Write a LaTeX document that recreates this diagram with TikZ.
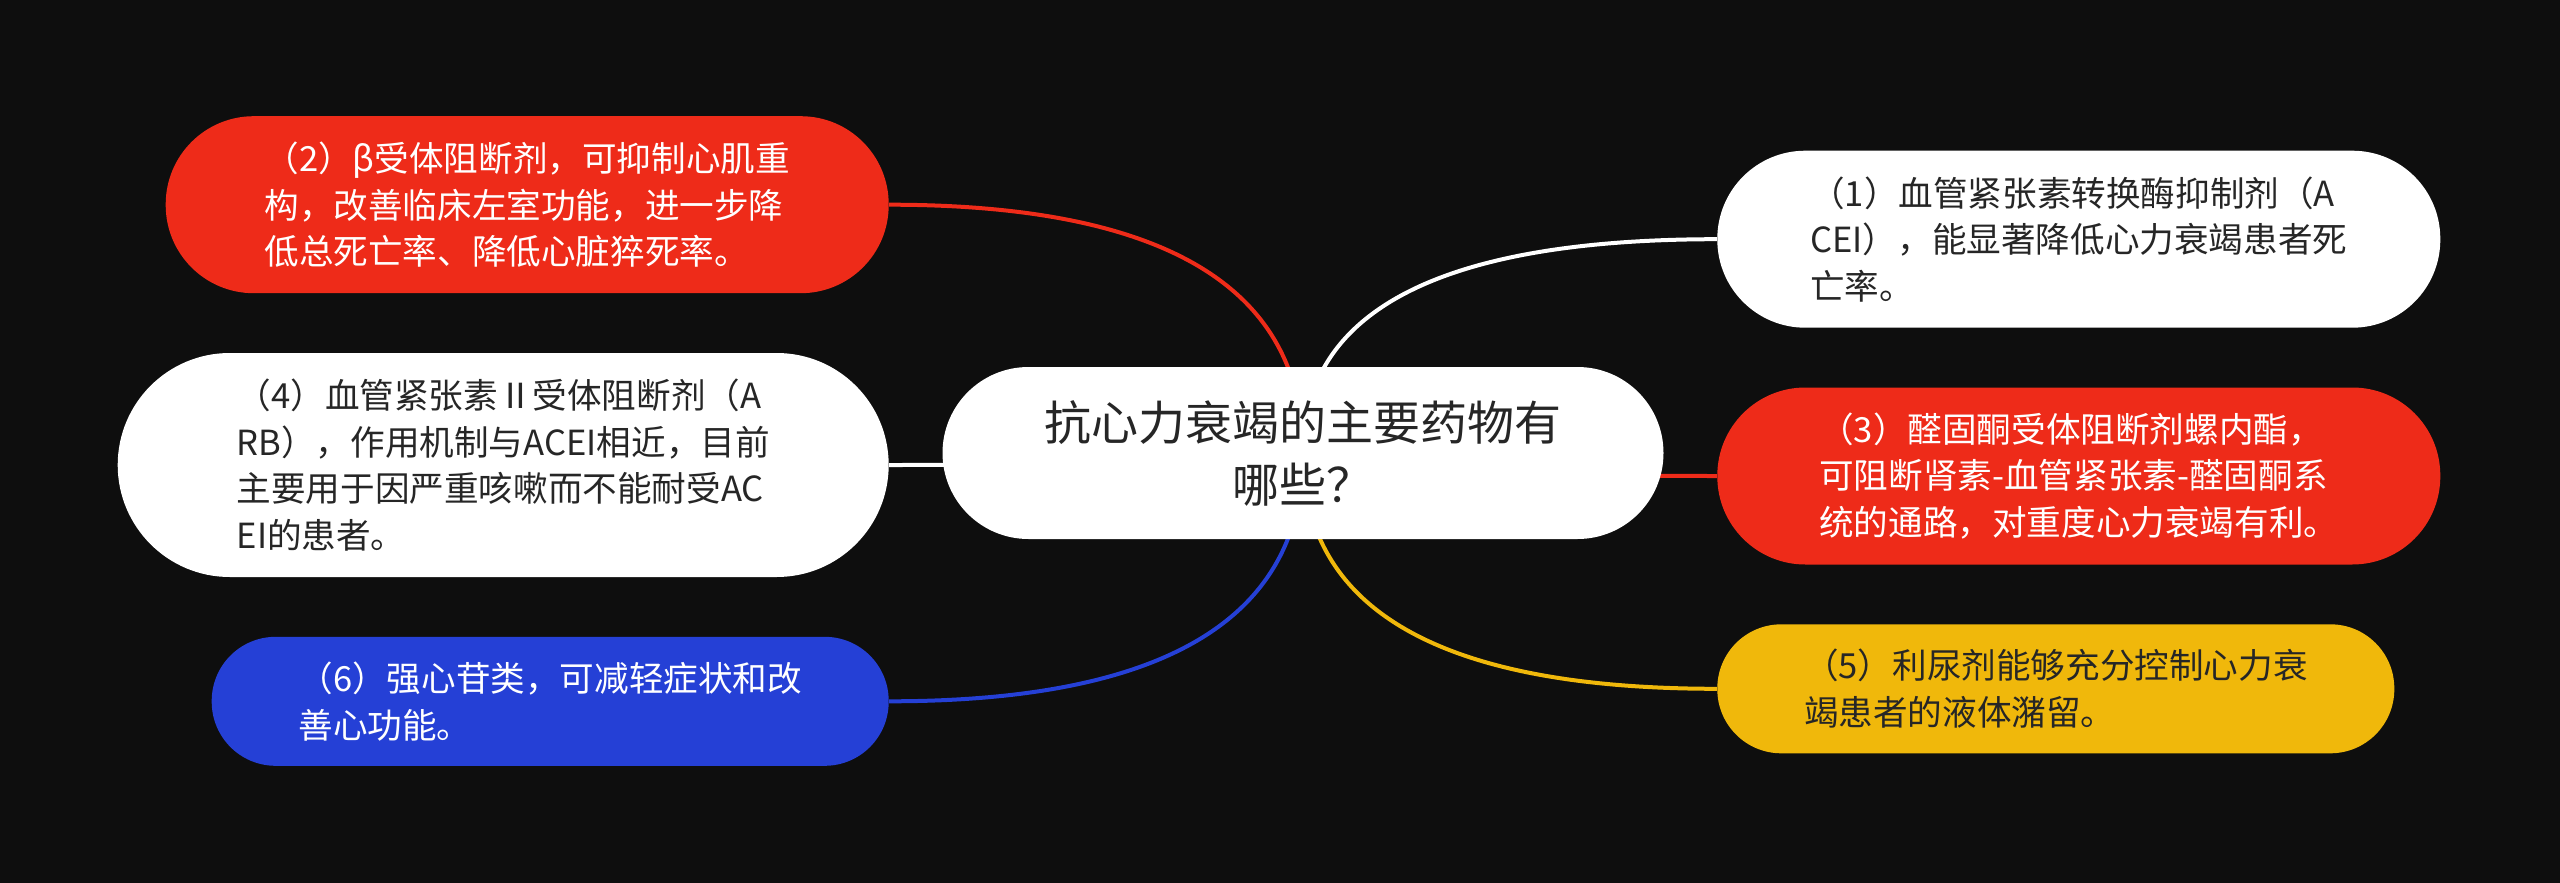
\documentclass[tikz,border=0pt]{standalone}
\usepackage{fontspec}
\setmainfont{Noto Sans CJK SC}
\usetikzlibrary{positioning,calc}

\definecolor{pagebg}{RGB}{14,14,14}
\definecolor{redbr}{RGB}{238,43,25}
\definecolor{bluebr}{RGB}{37,64,214}
\definecolor{yellowbr}{RGB}{240,184,11}
\definecolor{inkdark}{RGB}{38,38,38}

\pgfdeclarelayer{links}
\pgfsetlayers{links,main}

\begin{document}
\begin{tikzpicture}[
    x=0.5pt, y=-0.5pt,
    node distance=29.5pt and 26.5pt,
    every node/.style={font=\fontsize{17.3pt}{23.3pt}\selectfont},
    topic/.style={fill=white, text=inkdark, minimum width=360.5pt, minimum height=86pt, rounded corners=43pt, align=center, font=\fontsize{23.5pt}{31pt}\selectfont},
    leaf/.style={minimum width=361.5pt, minimum height=88.5pt, rounded corners=44pt, align=left},
    shortleaf/.style={leaf, minimum width=338.5pt, minimum height=64.5pt, rounded corners=32pt},
    redleaf/.style={fill=redbr, text=white},
    whiteleaf/.style={fill=white, text=inkdark},
    blueleaf/.style={fill=bluebr, text=white},
    yellowleaf/.style={fill=yellowbr, text=inkdark},
    link/.style={line width=2pt}
]
\useasboundingbox (0,0) rectangle (2560,883);

% 中心主题
\node[topic] (root) at (1303,453) {抗心力衰竭的主要药物有\\哪些？};

% 左侧分支
\node[leaf, whiteleaf, minimum width=385.5pt, minimum height=112pt, rounded corners=56pt, left=of root, yshift=-6pt] (drug4) {（4）血管紧张素Ⅱ受体阻断剂（A\\RB），作用机制与ACEI相近，目前\\主要用于因严重咳嗽而不能耐受AC\\EI的患者。};
\node[leaf, redleaf, above=of drug4.north east, anchor=south east] (drug2) {（2）β受体阻断剂，可抑制心肌重\\构，改善临床左室功能，进一步降\\低总死亡率、降低心脏猝死率。};
\node[shortleaf, blueleaf, below=of drug4.south east, anchor=north east] (drug6) {（6）强心苷类，可减轻症状和改\\善心功能。};

% 右侧分支
\node[leaf, redleaf, right=of root, yshift=-11.5pt] (drug3) {（3）醛固酮受体阻断剂螺内酯，\\可阻断肾素-血管紧张素-醛固酮系\\统的通路，对重度心力衰竭有利。};
\node[leaf, whiteleaf, above=of drug3.north west, anchor=south west] (drug1) {（1）血管紧张素转换酶抑制剂（A\\CEI），能显著降低心力衰竭患者死\\亡率。};
\node[shortleaf, yellowleaf, below=of drug3.south west, anchor=north west] (drug5) {（5）利尿剂能够充分控制心力衰\\竭患者的液体潴留。};

% 连接线（放在节点下面）
\begin{pgfonlayer}{links}
\fill[pagebg] (0,0) rectangle (2560,883);
\draw[link, white] (drug1.west) .. controls ($(drug1.west)!2/3!(root |- drug1.west)$) and ($(root)!2/3!(root |- drug1.west)$) .. (root.center);
\draw[link, redbr] (drug2.east) .. controls ($(drug2.east)!2/3!(root |- drug2.east)$) and ($(root)!2/3!(root |- drug2.east)$) .. (root.center);
\draw[link, redbr] (drug3.west) .. controls ($(drug3.west)!2/3!(root |- drug3.west)$) and ($(root)!2/3!(root |- drug3.west)$) .. (root.center);
\draw[link, white] (drug4.east) .. controls ($(drug4.east)!2/3!(root |- drug4.east)$) and ($(root)!2/3!(root |- drug4.east)$) .. (root.center);
\draw[link, yellowbr] (drug5.west) .. controls ($(drug5.west)!2/3!(root |- drug5.west)$) and ($(root)!2/3!(root |- drug5.west)$) .. (root.center);
\draw[link, bluebr] (drug6.east) .. controls ($(drug6.east)!2/3!(root |- drug6.east)$) and ($(root)!2/3!(root |- drug6.east)$) .. (root.center);
\end{pgfonlayer}

\end{tikzpicture}
\end{document}
